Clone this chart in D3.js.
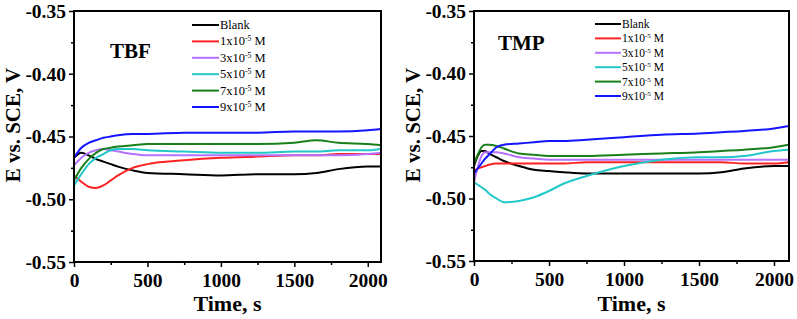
<!DOCTYPE html>
<html>
<head>
<meta charset="utf-8">
<script src="https://cdn.jsdelivr.net/npm/d3@7"></script>
<style>
  body { margin: 0; background: #fff; }
  svg { display: block; }
  text { font-family: "Liberation Serif", "Times New Roman", serif; }
</style>
</head>
<body>
<svg id="chart" width="797" height="319"></svg>
<script>
// series names and colours
var seriesNames = ['Blank', '1x10', '3x10', '5x10', '7x10', '9x10']
var seriesColors = ['#000000', '#ff2222', '#b472ff', '#22c8c8', '#1a7f1a', '#1414ff']

var yTicks = [-0.55, -0.50, -0.45, -0.40, -0.35]
var xTicks = [0, 500, 1000, 1500, 2000]

// TBF panel, time (s)
var tbfTime = [0, 50, 100, 150, 200, 250, 300, 400, 500, 750, 1000, 1250, 1500, 1650, 1800, 2000, 2090]
var tbfBlank  = [-0.467, -0.463, -0.465, -0.468, -0.470, -0.472, -0.474, -0.477, -0.479, -0.480, -0.481, -0.480, -0.480, -0.479, -0.476, -0.474, -0.474]
var tbfC1     = [-0.481, -0.486, -0.490, -0.491, -0.489, -0.485, -0.481, -0.475, -0.472, -0.469, -0.467, -0.466, -0.465, -0.465, -0.464, -0.464, -0.464]
var tbfC3     = [-0.473, -0.467, -0.463, -0.461, -0.460, -0.461, -0.462, -0.464, -0.465, -0.465, -0.465, -0.465, -0.465, -0.465, -0.465, -0.464, -0.463]
var tbfC5     = [-0.489, -0.480, -0.472, -0.467, -0.464, -0.461, -0.460, -0.460, -0.461, -0.462, -0.463, -0.463, -0.462, -0.462, -0.461, -0.461, -0.460]
var tbfC7     = [-0.485, -0.475, -0.468, -0.463, -0.460, -0.459, -0.458, -0.457, -0.456, -0.456, -0.456, -0.456, -0.455, -0.453, -0.455, -0.456, -0.457]
var tbfC9     = [-0.467, -0.459, -0.455, -0.453, -0.451, -0.450, -0.449, -0.448, -0.448, -0.447, -0.447, -0.447, -0.446, -0.446, -0.446, -0.445, -0.444]

// TMP panel, time (s)
var tmpTime = [0, 25, 50, 75, 100, 150, 200, 300, 400, 500, 600, 750, 1000, 1250, 1500, 1650, 1800, 2000, 2100]
var tmpBlank  = [-0.474, -0.466, -0.462, -0.462, -0.464, -0.467, -0.470, -0.474, -0.477, -0.478, -0.479, -0.480, -0.480, -0.480, -0.480, -0.479, -0.476, -0.474, -0.474]
var tmpC1     = [-0.478, -0.476, -0.475, -0.474, -0.473, -0.472, -0.472, -0.472, -0.472, -0.472, -0.472, -0.471, -0.471, -0.471, -0.471, -0.471, -0.472, -0.472, -0.471]
var tmpC3     = [-0.487, -0.475, -0.466, -0.463, -0.463, -0.463, -0.464, -0.467, -0.468, -0.469, -0.469, -0.469, -0.469, -0.469, -0.469, -0.469, -0.469, -0.469, -0.469]
var tmpC5     = [-0.487, -0.489, -0.491, -0.493, -0.496, -0.500, -0.503, -0.502, -0.499, -0.494, -0.488, -0.482, -0.474, -0.469, -0.467, -0.467, -0.466, -0.462, -0.461]
var tmpC7     = [-0.472, -0.465, -0.459, -0.457, -0.457, -0.458, -0.460, -0.464, -0.465, -0.466, -0.466, -0.466, -0.465, -0.464, -0.463, -0.462, -0.461, -0.459, -0.457]
var tmpC9     = [-0.480, -0.476, -0.472, -0.468, -0.465, -0.459, -0.457, -0.456, -0.455, -0.454, -0.454, -0.453, -0.451, -0.449, -0.448, -0.447, -0.446, -0.444, -0.442]

var svg = d3.select('#chart')

drawPanel({
	left: 74, right: 381, top: 11, bottom: 262, xMax: 2090,
	time: tbfTime, series: [tbfBlank, tbfC1, tbfC3, tbfC5, tbfC7, tbfC9],
	title: 'TBF', titleX: 110, titleY: 58,
	legX: 192, legY: 25, legStep: 16.4, legLen: 27, legFont: 12.5, c3Pad: ''
})

drawPanel({
	left: 474, right: 789, top: 11, bottom: 261, xMax: 2100,
	time: tmpTime, series: [tmpBlank, tmpC1, tmpC3, tmpC5, tmpC7, tmpC9],
	title: 'TMP', titleX: 498, titleY: 50,
	legX: 595, legY: 24, legStep: 14.4, legLen: 26, legFont: 11.5, c3Pad: ' '
})

function drawPanel(p){

	var x = d3.scaleLinear().domain([0, p.xMax]).range([p.left, p.right])
	var y = d3.scaleLinear().domain([-0.55, -0.35]).range([p.bottom, p.top])

	var g = svg.append('g')

	// minor ticks
	var xMinor = d3.range(250, p.xMax, 500)
	var yMinor = [-0.525, -0.475, -0.425, -0.375]

	g.append('g')
		.attr('transform', 'translate(0,' + p.bottom + ')')
		.call(d3.axisBottom(x).tickValues(xTicks).tickSize(5).tickPadding(6).tickFormat(d3.format('d')))
	g.append('g')
		.attr('transform', 'translate(0,' + p.bottom + ')')
		.call(d3.axisBottom(x).tickValues(xMinor).tickSize(3).tickFormat(''))

	var yAxis = g.append('g')
		.attr('transform', 'translate(' + p.left + ',0)')
		.call(d3.axisLeft(y).tickValues(yTicks).tickSize(5).tickPadding(3).tickFormat(d3.format('.2f')))
	g.append('g')
		.attr('transform', 'translate(' + p.left + ',0)')
		.call(d3.axisLeft(y).tickValues(yMinor).tickSize(3).tickFormat(''))

	g.selectAll('.domain').remove()
	g.selectAll('.tick line').attr('stroke', '#000').attr('stroke-width', 1.5)
	g.selectAll('.tick text')
		.attr('fill', '#000')
		.style('font-family', '"Liberation Serif", serif')
		.style('font-weight', 'bold')
		.style('font-size', '19.5px')
	yAxis.selectAll('.tick text').text(function(d){ return d3.format('.2f')(d).replace('−', '-') })

	// lines
	var line = d3.line()
		.x(function(d){ return x(d[0]) })
		.y(function(d){ return y(d[1]) })
		.curve(d3.curveMonotoneX)

	p.series.forEach(function(s, i){
		g.append('path')
			.datum(p.time.map(function(t, k){ return [t, s[k]] }))
			.attr('d', line)
			.attr('fill', 'none')
			.attr('stroke', seriesColors[i])
			.attr('stroke-width', 2)
	})

	// frame
	g.append('rect')
		.attr('x', p.left).attr('y', p.top)
		.attr('width', p.right - p.left).attr('height', p.bottom - p.top)
		.attr('fill', 'none').attr('stroke', '#000').attr('stroke-width', 2)

	// panel title
	g.append('text')
		.attr('x', p.titleX).attr('y', p.titleY)
		.style('font-weight', 'bold').style('font-size', '21px')
		.text(p.title)

	// axis titles
	g.append('text')
		.attr('x', (p.left + p.right) / 2).attr('y', 311)
		.attr('text-anchor', 'middle')
		.style('font-weight', 'bold').style('font-size', '22px')
		.text('Time, s')

	g.append('text')
		.attr('transform', 'translate(' + (p.left - 54) + ',125) rotate(-90)')
		.attr('text-anchor', 'middle')
		.style('font-weight', 'bold').style('font-size', '21px')
		.text('E vs. SCE, V')

	// legend
	seriesNames.forEach(function(name, i){
		var ly = p.legY + i * p.legStep
		g.append('line')
			.attr('x1', p.legX).attr('x2', p.legX + p.legLen)
			.attr('y1', ly).attr('y2', ly)
			.attr('stroke', seriesColors[i]).attr('stroke-width', 2)
		var t = g.append('text')
			.attr('x', p.legX + p.legLen + 1).attr('y', ly + 4)
			.style('font-size', p.legFont + 'px')
		if(i === 0){
			t.text(name)
		}
		else{
			t.append('tspan').text((i === 2 ? p.c3Pad : '') + name)
			t.append('tspan').attr('dy', -4).style('font-size', (p.legFont * 0.62) + 'px').text('-5')
			t.append('tspan').attr('dy', 4).text(' M')
		}
	})
}
</script>
</body>
</html>
